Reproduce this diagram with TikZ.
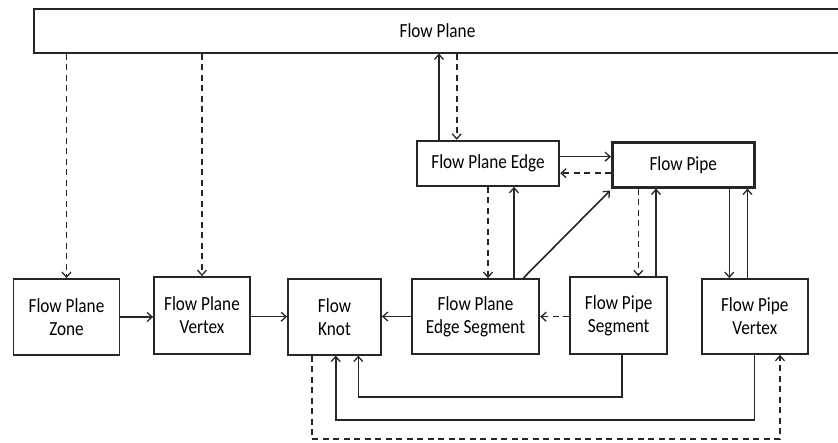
\documentclass[tikz,border=0pt]{standalone}
\usepackage{fontspec}
\setmainfont[FakeStretch=0.86]{Carlito}
\usetikzlibrary{arrows.meta}
\begin{document}
\begin{tikzpicture}[x=1pt,y=-1pt,
  box/.style={draw=black!85,line width=1.8pt,fill=white,align=center,inner sep=0pt,
    font=\fontsize{20}{23}\selectfont},
  conn/.style={line width=1.6pt,draw=black!85,-{Straight Barb[length=5pt,width=9pt,line width=1.3pt]}},
  dconn/.style={conn,dash pattern=on 6pt off 4.5pt}]
\useasboundingbox (0,0) rectangle (838,443);
% nodes
\node[box,minimum width=807pt,minimum height=43.7pt] (plane) at (437.5,30.8) {Flow Plane};
\node[box,minimum width=106pt,minimum height=76pt] (zone) at (66.5,317) {Flow Plane\\Zone};
\node[box,minimum width=96pt,minimum height=77pt] (pvert) at (202,315.5) {Flow Plane\\Vertex};
\node[box,minimum width=93pt,minimum height=76pt] (knot) at (334.5,316.7) {Flow\\Knot};
\node[box,minimum width=127.6pt,minimum height=75pt] (eseg) at (475.5,316.5) {Flow Plane\\Edge Segment};
\node[box,minimum width=97pt,minimum height=77pt] (pseg) at (618.7,315.7) {Flow Pipe\\Segment};
\node[box,minimum width=106pt,minimum height=75pt] (pvtx) at (754.8,316.5) {Flow Pipe\\Vertex};
\node[box,minimum width=142.6pt,minimum height=45.3pt] (pedge) at (488,163.3) {Flow Plane Edge};
\node[box,line width=2.6pt,minimum width=142pt,minimum height=45pt] (pipe) at (683.3,164.8) {Flow Pipe};
% coordinates for routed connectors
\coordinate (c1) at (621.7,397.3);
\coordinate (c2) at (358.3,397.3);
\coordinate (c3) at (754.3,420);
\coordinate (c4) at (335.7,420);
\coordinate (c5) at (311.7,439);
\coordinate (c6) at (780,439);
% from Flow Plane
\draw[dconn] (zone.north |- plane.south) -- (zone.north);
\draw[dconn] (pvert.north |- plane.south) -- (pvert.north);
\draw[conn] ([xshift=-49pt]pedge.north) -- ([xshift=-49pt]pedge.north |- plane.south);
\draw[dconn] ([xshift=-31.3pt]pedge.north |- plane.south) -- ([xshift=-31.3pt]pedge.north);
% Edge <-> Pipe
\draw[conn] ([yshift=6.6pt]pedge.east) -- ([yshift=6.6pt]pedge.east -| pipe.west);
\draw[dconn] ([yshift=-8.4pt]pipe.west) -- ([yshift=-8.4pt]pipe.west -| pedge.east);
% Edge <-> Edge Segment
\draw[dconn] (pedge.south) -- (pedge.south |- eseg.north);
\draw[conn] ([xshift=38.5pt]eseg.north) -- ([xshift=38.5pt]eseg.north |- pedge.south);
\draw[conn] ([xshift=47.8pt]eseg.north) -- ([xshift=-1pt,yshift=-2pt]pipe.south west);
% Pipe <-> Pipe Segment
\draw[dconn] ([xshift=19.6pt]pseg.north |- pipe.south) -- ([xshift=19.6pt]pseg.north);
\draw[conn] ([xshift=37.3pt]pseg.north) -- ([xshift=37.3pt]pseg.north |- pipe.south);
% Pipe <-> Pipe Vertex
\draw[conn] ([xshift=-25.5pt]pvtx.north |- pipe.south) -- ([xshift=-25.5pt]pvtx.north);
\draw[conn] ([xshift=-7.3pt]pvtx.north) -- ([xshift=-7.3pt]pvtx.north |- pipe.south);
% row
\draw[conn] (zone.east) -- (zone.east -| pvert.west);
\draw[conn] ([yshift=-1.2pt]pvert.east) -- ([yshift=-1.2pt]pvert.east -| knot.west);
\draw[conn] (eseg.west) -- (eseg.west -| knot.east);
\draw[dconn] ([yshift=-1pt]pseg.west) -- ([yshift=-1pt]pseg.west -| eseg.east);
% routed bottom
\draw[conn] (c1 |- pseg.south) -- (c1) -- (c2) -- (c2 |- knot.south);
\draw[conn] (c3 |- pvtx.south) -- (c3) -- (c4) -- (c4 |- knot.south);
\draw[dconn] (c5 |- knot.south) -- (c5) -- (c6) -- (c6 |- pvtx.south);
\end{tikzpicture}
\end{document}
